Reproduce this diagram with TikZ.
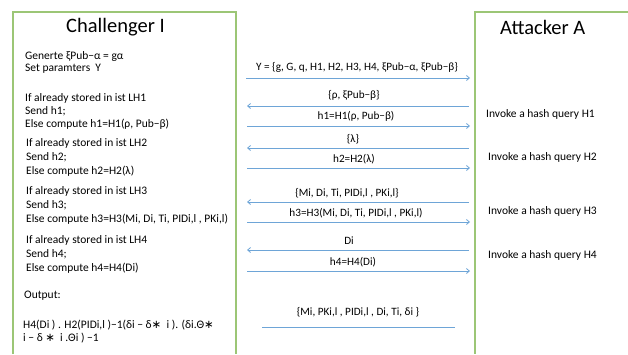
\documentclass[tikz,border=0pt]{standalone}
\usepackage{fontspec}
\setmainfont{Carlito}
\newfontfamily\symf{DejaVu Sans}
\usetikzlibrary{arrows.meta}
\definecolor{boxgreen}{RGB}{156,198,118}
\definecolor{arrowblue}{RGB}{110,165,215}
\tikzset{
  boxline/.style={draw=boxgreen, line width=1.1pt},
  title/.style={font=\fontsize{20.5}{24}\selectfont, inner sep=0pt, anchor=west},
  txt/.style={font=\fontsize{11.5}{14}\selectfont, inner sep=0pt, anchor=west},
  rtxt/.style={font=\fontsize{11.5}{14}\selectfont, inner sep=0pt, anchor=west},
  lbl/.style={font=\fontsize{11.2}{13}\selectfont, inner sep=0pt, anchor=center},
  msg/.style={draw=arrowblue, line width=0.8pt, -{Straight Barb[length=3pt,width=5pt]}},
  plainmsg/.style={draw=arrowblue, line width=0.8pt}
}
\newcommand{\myast}{{\symf ∗}}
\begin{document}
\begin{tikzpicture}[x=1pt,y=-1pt]
\useasboundingbox (0,0) rectangle (628,354);
% boxes
\draw[boxline] (13,354) -- (13,12) -- (236,12) -- (236,354);
\draw[boxline] (628,12) -- (475,12) -- (475,354);
% titles
\node[title] (chal) at (66,27) {Challenger I};
\node[title] (att) at (500,27) {Attacker A};
% left texts
\node[txt] (t1) at (25,56) {Generte ξPub−α = gα};
\node[txt] (t2) at (25,69) {Set paramters\ \ Y};
\node[txt] (t3) at (25,98) {If already stored in ist LH1};
\node[txt] (t4) at (25,111) {Send h1;};
\node[txt] (t5) at (25,124) {Else compute h1=H1(ρ, Pub−β)};
\node[txt] (t6) at (26,143) {If already stored in ist LH2};
\node[txt] (t7) at (26,157) {Send h2;};
\node[txt] (t8) at (26,171) {Else compute h2=H2(λ)};
\node[txt] (t9) at (26,191) {If already stored in ist LH3};
\node[txt] (t10) at (26,205) {Send h3;};
\node[txt] (t11) at (26,219) {Else compute h3=H3(Mi, Di, Ti, PIDi,l , PKi,l)};
\node[txt] (t12) at (26,240) {If already stored in ist LH4};
\node[txt] (t13) at (26,254) {Send h4;};
\node[txt] (t14) at (26,268) {Else compute h4=H4(Di)};
\node[txt] (t15) at (24,296) {Output:};
\node[txt] (t16) at (23,325) {H4(Di ) . H2(PIDi,l )−1(δi − δ\myast\ \ i ). (δi.Θ\myast};
\node[txt] (t17) at (23,338) {i − δ \myast\ \ i .Θi ) −1};
% right texts
\node[rtxt] (r1) at (486,114) {Invoke a hash query H1};
\node[rtxt] (r2) at (488,157) {Invoke a hash query H2};
\node[rtxt] (r3) at (488,211) {Invoke a hash query H3};
\node[rtxt] (r4) at (488,255) {Invoke a hash query H4};
% arrow end points
\coordinate (a1l) at (246,78);  \coordinate (a1r) at (470,78);
\coordinate (a2l) at (247,106); \coordinate (a2r) at (469,106);
\coordinate (a3l) at (247,126); \coordinate (a3r) at (470,126);
\coordinate (a4l) at (247,148); \coordinate (a4r) at (469,148);
\coordinate (a5l) at (247,168); \coordinate (a5r) at (470,168);
\coordinate (a6l) at (247,202); \coordinate (a6r) at (469,202);
\coordinate (a7l) at (247,222); \coordinate (a7r) at (470,222);
\coordinate (a8l) at (247,250); \coordinate (a8r) at (469,250);
\coordinate (a9l) at (247,271); \coordinate (a9r) at (470,271);
\coordinate (a10l) at (262,327); \coordinate (a10r) at (455,327);
% arrows
\draw[msg] (a1l) -- (a1r);
\draw[msg] (a2r) -- (a2l);
\draw[msg] (a3l) -- (a3r);
\draw[msg] (a4r) -- (a4l);
\draw[msg] (a5l) -- (a5r);
\draw[msg] (a6r) -- (a6l);
\draw[msg] (a7l) -- (a7r);
\draw[msg] (a8r) -- (a8l);
\draw[msg] (a9l) -- (a9r);
\draw[plainmsg] (a10l) -- (a10r);
% labels
\node[lbl] (m1) at (357,67) {Y = \{g, G, q, H1, H2, H3, H4, ξPub−α, ξPub−β\}};
\node[lbl] (m2) at (354,95) {\{ρ, ξPub−β\}};
\node[lbl] (m3) at (356,116) {h1=H1(ρ, Pub−β)};
\node[lbl] (m4) at (353,139) {\{λ\}};
\node[lbl] (m5) at (354,159) {h2=H2(λ)};
\node[lbl] (m6) at (347,193) {\{Mi, Di, Ti, PIDi,l , PKi,l\}};
\node[lbl] (m7) at (356,213) {h3=H3(Mi, Di, Ti, PIDi,l , PKi,l)};
\node[lbl] (m8) at (349,241) {Di};
\node[lbl] (m9) at (353,262) {h4=H4(Di)};
\node[lbl] (m10) at (358,312) {\{Mi, PKi,l , PIDi,l , Di, Ti, δi \}};
\end{tikzpicture}
\end{document}
